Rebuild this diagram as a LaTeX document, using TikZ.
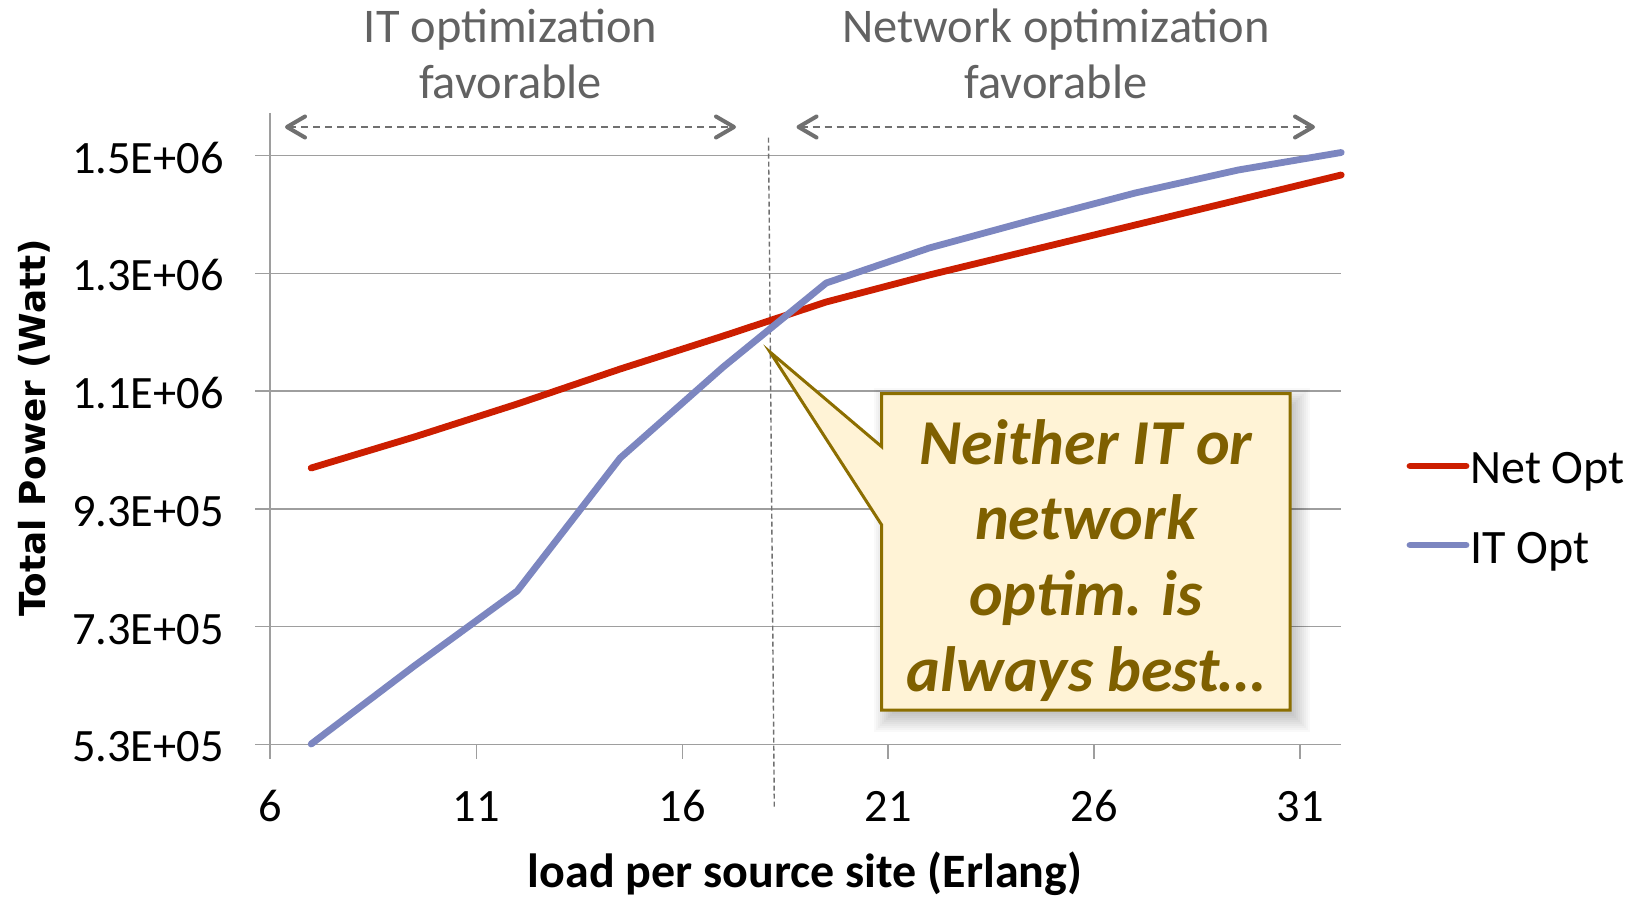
\documentclass[tikz,border=0pt]{standalone}
\usepackage{fontspec}
\setmainfont{Carlito}
\newfontfamily\titlefont{DejaVu Sans}
\usetikzlibrary{arrows.meta}

\definecolor{netred}{RGB}{204,30,0}
\definecolor{itblue}{RGB}{124,134,192}
\definecolor{gridgray}{RGB}{158,158,158}
\definecolor{headgray}{RGB}{98,98,98}
\definecolor{arrowgray}{RGB}{112,112,112}
\definecolor{notefill}{RGB}{255,243,214}
\definecolor{noteedge}{RGB}{140,110,0}
\definecolor{notetext}{RGB}{127,96,0}

\begin{document}
\begin{tikzpicture}[x=0.5pt,y=-0.5pt,
  gridline/.style={draw=gridgray,line width=0.75pt},
  ticklabel/.style={font=\fontsize{23.2}{27}\selectfont,inner sep=0pt},
  heading/.style={text=headgray,font=\fontsize{24.2}{29}\selectfont,inner sep=0pt,anchor=base},
  spanarrow/.style={draw=arrowgray,line width=0.75pt,dash pattern=on 3.5pt off 2.5pt,
    {Straight Barb[length=9pt,width=10.5pt,line width=2pt,round]}-{Straight Barb[length=9pt,width=10.5pt,line width=2pt,round]}},
  series/.style={line width=3.4pt,line cap=round,line join=round},
  notetextstyle/.style={text=notetext,font=\bfseries\itshape\fontsize{32}{38}\selectfont,inner sep=0pt,anchor=base},
  legendtext/.style={font=\fontsize{24}{28}\selectfont,inner sep=0pt,anchor=base west}]

\useasboundingbox (0,0) rectangle (1639,899);
\fill[white] (0,0) rectangle (1639,899);

% horizontal grid lines (with the y tick stubs) and the y axis
\foreach \gy in {155.7,273.3,391,509,626.7,744.3}
  \draw[gridline] (255,\gy) -- (1341,\gy);
\draw[gridline] (270,113) -- (270,759);
\foreach \tx in {476.4,682.5,888,1094.2,1300}
  \draw[gridline] (\tx,744.3) -- (\tx,759);

% y tick labels
\node[ticklabel,anchor=base east] (y1) at (224,173.3) {1.5E+06};
\node[ticklabel,anchor=base east] (y2) at (224,290.9) {1.3E+06};
\node[ticklabel,anchor=base east] (y3) at (224,408.6) {1.1E+06};
\node[ticklabel,anchor=base east] (y4) at (224,526.6) {9.3E+05};
\node[ticklabel,anchor=base east] (y5) at (224,644.3) {7.3E+05};
\node[ticklabel,anchor=base east] (y6) at (224,761.9) {5.3E+05};

% x tick labels
\node[ticklabel,anchor=base] (x1) at (270,821.7) {6};
\node[ticklabel,anchor=base] (x2) at (476.4,821.7) {11};
\node[ticklabel,anchor=base] (x3) at (682.5,821.7) {16};
\node[ticklabel,anchor=base] (x4) at (888,821.7) {21};
\node[ticklabel,anchor=base] (x5) at (1094.2,821.7) {26};
\node[ticklabel,anchor=base] (x6) at (1300,821.7) {31};

% axis titles
\node[font=\bfseries\fontsize{24}{28}\selectfont,inner sep=0pt,anchor=base] (xtitle) at (805,887) {load per source site (Erlang)};
\node[font=\titlefont\bfseries\fontsize{17.9}{21}\selectfont,inner sep=0pt,rotate=90] (ytitle) at (34,428) {Total Power (Watt)};

% region headings
\node[heading] (lefthead1) at (510.5,42.7) {IT optimization};
\node[heading] (lefthead2) at (510.5,98.3) {favorable};
\node[heading] (righthead1) at (1056,42.7) {Network optimization};
\node[heading] (righthead2) at (1056,98.3) {favorable};

% range arrows
\coordinate (leftA) at (285,127);
\coordinate (leftB) at (736,127);
\coordinate (rightA) at (796.5,127);
\coordinate (rightB) at (1315,127);
\draw[spanarrow] (leftA) -- (leftB);
\draw[spanarrow] (rightA) -- (rightB);

% split between the two regions
\coordinate (splitTop) at (768.5,137.7);
\coordinate (splitBot) at (774.3,807.7);
\draw[draw=arrowgray,line width=0.7pt,dash pattern=on 2.5pt off 1.5pt] (splitTop) -- (splitBot);

% data series
\draw[series,draw=netred] plot coordinates {(311.2,468) (414.2,437) (517.2,404) (620.2,369) (723.2,336) (826.2,302) (929.2,275) (1032.2,250) (1135.2,225) (1238.2,200) (1341.2,175)};
\draw[series,draw=itblue] plot coordinates {(311.2,744) (414.2,666) (517.2,591) (620.2,458) (723.2,367) (826.2,283) (929.2,248) (1032.2,220) (1135.2,193) (1238.2,170) (1341.2,152.5)};

% legend
\draw[series,draw=netred] (1410,466) -- (1466,466);
\node[legendtext] (netlabel) at (1470,483.3) {Net Opt};
\draw[series,draw=itblue] (1410,545) -- (1466,545);
\node[legendtext] (itlabel) at (1470,563) {IT Opt};

% callout: soft shadow, then the box with its pointer
\foreach \r in {0,2,...,18}
  \fill[black,opacity=0.022] (891.7-\r,405.5-\r) rectangle (1292+\r,714+\r);
\coordinate (tip) at (770,352);
\draw[fill=notefill,draw=noteedge,line width=1.5pt,line join=miter]
  (tip) -- (881.7,446.7) -- (881.7,393.5) -- (1290,393.5) -- (1290,710) -- (881.7,710) -- (881.7,525) -- cycle;
\node[notetextstyle] (note1) at (1086,464) {Neither IT or};
\node[notetextstyle] (note2) at (1086,539) {network};
\node[notetextstyle] (note3) at (1086,615) {optim. is};
\node[notetextstyle] (note4) at (1086,691) {always best…};

\end{tikzpicture}
\end{document}
